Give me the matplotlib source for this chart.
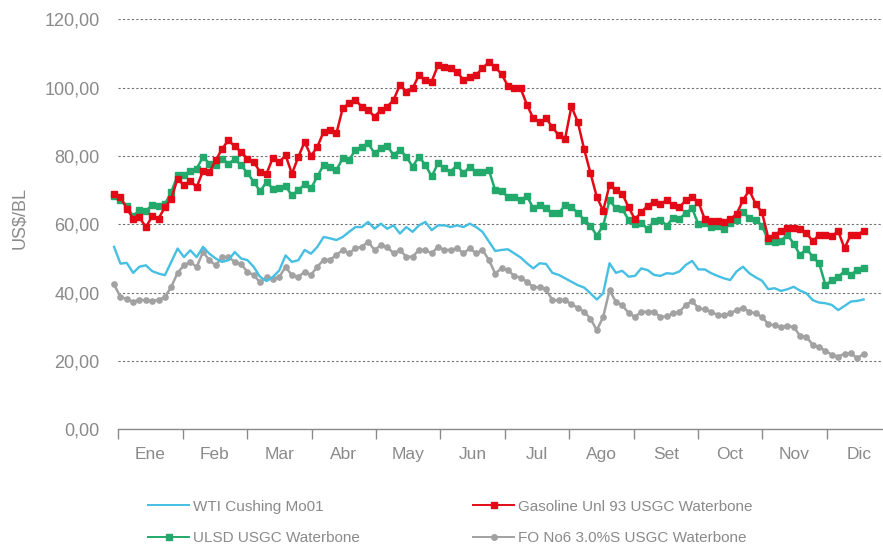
import numpy as np
import matplotlib
matplotlib.use("Agg")
import matplotlib.pyplot as plt
import matplotlib.ticker as ticker

plt.rcParams['font.family'] = ['Liberation Sans', 'DejaVu Sans']

# dias desde el 1 de enero (una lectura cada 3 dias)
dias = np.arange(-2, 353, 3)
meses = ['Ene', 'Feb', 'Mar', 'Abr', 'May', 'Jun', 'Jul', 'Ago', 'Set', 'Oct', 'Nov', 'Dic']

wti = [53.4, 48.5, 48.7, 45.8, 47.6, 48.0, 46.3, 45.6, 45.1, 49.0, 52.9, 50.4, 52.4, 50.4, 53.4, 51.4,
       50.0, 49.0, 49.5, 51.9, 50.0, 49.5, 47.5, 44.6, 43.4, 44.6, 46.5, 50.9, 49.0, 49.5, 52.5,
       51.4, 53.4, 56.3, 55.9, 55.4, 56.3, 57.8, 59.2, 59.2, 60.7, 58.7, 60.2, 58.7, 59.7, 57.3,
       59.2, 57.8, 59.7, 60.7, 58.3, 59.7, 59.7, 59.2, 59.7, 59.2, 60.2, 59.2, 57.8, 55.0,
       52.2, 52.5, 52.7, 51.5, 50.3, 48.6, 47.1, 48.6, 48.4, 45.8, 45.2, 44.2, 43.2, 42.2, 41.5,
       39.8, 38.0, 39.8, 48.6, 45.8, 46.4, 44.7, 44.9, 47.1, 46.6, 45.2, 44.9, 45.7, 45.5, 46.2,
       48.1, 49.3, 46.8, 46.8, 45.7, 44.9, 44.2, 43.7, 46.2, 47.6, 45.7, 44.5, 43.5, 41.0, 41.3,
       40.5, 41.0, 41.7, 40.6, 39.8, 37.8, 37.1, 36.9, 36.4, 34.9, 36.1, 37.4, 37.6, 38.0]

gasolina = [69.0, 68.0, 64.6, 61.7, 62.0, 59.2, 62.3, 61.7, 65.0, 67.5, 73.4, 71.4, 72.7, 70.9, 75.6,
            75.3, 78.7, 82.1, 84.6, 82.8, 81.2, 79.2, 78.2, 75.3, 74.8, 79.5, 78.2, 80.2, 74.8, 79.7,
            84.1, 80.0, 82.7, 87.1, 87.6, 86.6, 94.0, 95.4, 96.4, 94.4, 93.5, 91.5, 93.5, 94.4, 96.4,
            100.8, 98.8, 99.8, 103.7, 102.2, 101.8, 106.6, 106.1, 105.7, 104.7, 102.2, 103.2, 103.7,
            105.7, 107.5, 106.0, 104.0, 100.5, 99.8, 99.8, 95.0, 91.0, 90.0, 91.0, 88.5, 86.0, 85.0,
            94.5, 90.0, 82.0, 75.0, 68.0, 64.0, 71.5, 70.0, 69.0, 65.0, 61.5, 63.5, 65.5, 66.5, 66.0,
            67.0, 65.8, 65.0, 67.0, 68.0, 66.5, 61.5, 61.0, 61.0, 60.8, 61.5, 63.0, 67.0, 70.0, 66.0,
            63.5, 56.0, 57.0, 58.0, 59.0, 59.0, 58.5, 57.5, 55.0, 57.0, 57.0, 56.5, 58.0, 53.0, 57.0,
            57.0, 58.0]

ulsd = [68.4, 67.2, 65.4, 62.3, 64.3, 63.8, 65.8, 65.3, 65.9, 69.5, 74.3, 74.3, 75.6, 76.3, 79.7,
        77.8, 77.3, 79.2, 77.8, 79.0, 77.3, 75.0, 72.4, 69.7, 72.4, 70.4, 70.7, 71.1, 68.5, 70.0,
        71.7, 70.5, 74.0, 77.4, 76.9, 75.9, 79.3, 78.8, 81.8, 82.7, 83.7, 80.8, 82.2, 82.9, 80.3,
        81.8, 79.8, 76.9, 79.8, 77.4, 74.0, 77.9, 76.4, 75.4, 77.4, 74.9, 76.9, 75.4, 75.4, 75.9,
        70.0, 69.8, 68.0, 68.1, 67.1, 68.3, 64.7, 65.6, 64.7, 63.3, 63.3, 65.6, 65.1, 63.3, 61.4,
        59.6, 56.7, 59.6, 67.0, 64.7, 64.4, 61.4, 60.0, 60.5, 58.6, 61.0, 61.4, 59.6, 61.9, 61.6,
        63.3, 64.7, 60.0, 60.5, 59.1, 59.6, 58.6, 60.5, 61.4, 63.5, 61.9, 61.4, 59.6, 55.2, 54.8,
        55.2, 57.0, 54.3, 51.0, 52.9, 50.5, 48.6, 42.2, 43.6, 44.6, 46.3, 45.2, 46.7, 47.1]

fo6 = [42.4, 38.7, 38.2, 37.3, 37.9, 37.8, 37.6, 37.9, 38.7, 41.7, 45.8, 48.0, 49.0, 47.5, 51.9,
       49.5, 48.0, 50.4, 50.4, 49.0, 48.3, 46.1, 45.1, 43.0, 44.5, 44.1, 44.6, 47.5, 45.1, 44.6,
       46.1, 45.2, 47.6, 49.6, 49.6, 51.0, 52.5, 51.5, 53.0, 53.4, 54.9, 52.5, 53.9, 53.4, 51.5,
       52.5, 50.5, 50.5, 52.5, 52.5, 51.5, 53.4, 52.5, 52.5, 53.0, 51.5, 53.0, 51.5, 52.5, 49.6,
       45.6, 47.1, 46.6, 44.9, 44.4, 43.2, 41.6, 41.6, 41.0, 37.8, 37.8, 37.8, 36.6, 35.6, 34.4,
       32.4, 29.0, 32.9, 40.7, 37.3, 36.3, 34.1, 32.9, 34.4, 34.4, 34.4, 32.9, 33.1, 33.9, 34.4,
       36.3, 37.6, 35.4, 35.1, 34.4, 33.5, 33.4, 33.9, 34.9, 35.6, 34.4, 33.9, 32.9, 30.8, 30.4,
       30.0, 30.2, 30.0, 27.3, 27.1, 24.7, 24.0, 23.0, 21.8, 21.3, 22.1, 22.3, 20.8, 22.1]

gris = '#8a8a8a'
x = dias * 12 / 365

fig = plt.figure(figsize=(8.83, 5.46), dpi=100)
ax = fig.add_axes([0.134, 0.2137, 0.866, 0.7509])

l_wti, = ax.plot(x, wti, color='#45bfe2', lw=1.7, clip_on=False, zorder=3)
l_fo, = ax.plot(x, fo6, color='#a2a2a2', lw=1.8, marker='o', ms=3.8, clip_on=False, zorder=2)
l_ulsd, = ax.plot(x, ulsd, color='#22a96b', lw=1.8, marker='s', ms=4.6, clip_on=False, zorder=4)
l_gas, = ax.plot(x, gasolina, color='#e30a17', lw=1.8, marker='s', ms=4.6, clip_on=False, zorder=5)

ax.set_xlim(0, 11.874)
ax.set_ylim(0, 120)
ax.set_yticks(np.arange(0, 121, 20))
ax.yaxis.set_major_formatter(ticker.FuncFormatter(lambda v, p: f'{v:.2f}'.replace('.', ',')))
ax.yaxis.grid(True, linestyle=(0, (2, 2)), color='#707070', lw=0.8)
ax.tick_params(axis='y', length=0, pad=13.5, labelsize=13, labelcolor=gris)

ax.set_xticks(np.arange(12))
ax.set_xticklabels([])
ax.set_xticks(np.arange(12) + 0.5, minor=True)
ax.set_xticklabels(meses, minor=True)
ax.tick_params(axis='x', which='major', length=7, width=1, color=gris)
ax.tick_params(axis='x', which='minor', length=0, pad=13, labelsize=12.5, labelcolor=gris)

for s in ['top', 'right', 'left']:
    ax.spines[s].set_visible(False)
ax.spines['bottom'].set_color(gris)
ax.spines['bottom'].set_linewidth(1)

fig.text(20 / 883, 1 - 218 / 546, 'US$/BL', rotation=90, ha='center', va='center',
         fontsize=13, color=gris)

leg = fig.legend([l_wti, l_ulsd, l_gas, l_fo],
                 ['WTI Cushing Mo01', 'ULSD USGC Waterbone',
                  'Gasoline Unl 93 USGC Waterbone', 'FO No6 3.0%S USGC Waterbone'],
                 loc='center left', bbox_to_anchor=(148 / 883, 1 - 522.4 / 546), ncol=2,
                 frameon=False, fontsize=11, handlelength=2.7, handletextpad=0.25,
                 columnspacing=7.4, labelspacing=1.15, borderpad=0, borderaxespad=0)
for t in leg.get_texts():
    t.set_color(gris)
for h in leg.legend_handles:
    h.set_linewidth(1.4)
    h.set_markersize(4)

fig.savefig('out.png', dpi=100)
